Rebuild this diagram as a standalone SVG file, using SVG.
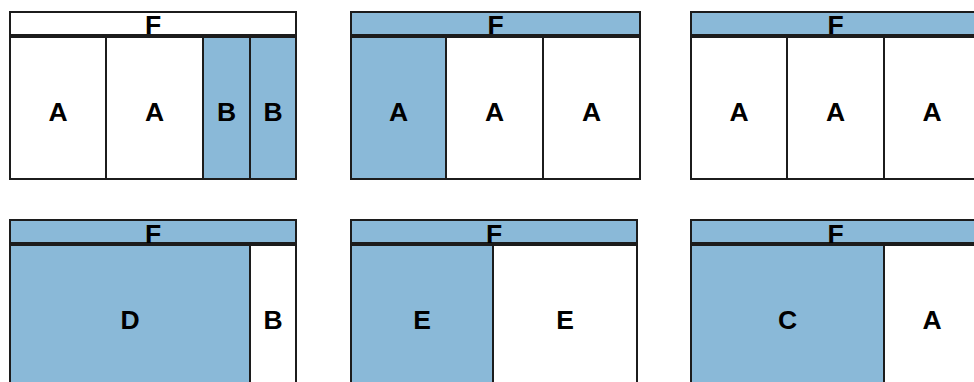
<svg xmlns="http://www.w3.org/2000/svg" width="974" height="382" viewBox="0 0 974 382">
<style>
.w,.b{stroke:#1c1c1c;stroke-width:2}
.w{fill:#ffffff}
.b{fill:#8ab9d8}
text{font-family:"Liberation Sans",Arial,sans-serif;font-weight:bold;font-size:26.5px;fill:#000;text-anchor:middle}
</style>
<g id="panel1">
<g id="p1-F"><rect class="w" x="10" y="12" width="286" height="23"/><text x="153" y="34">F</text></g>
<g id="p1-A1"><rect class="w" x="10" y="37" width="96" height="142"/><text x="58" y="120.5">A</text></g>
<g id="p1-A2"><rect class="w" x="106" y="37" width="97" height="142"/><text x="154.5" y="120.5">A</text></g>
<g id="p1-B1"><rect class="b" x="203" y="37" width="47" height="142"/><text x="226.5" y="120.5">B</text></g>
<g id="p1-B2"><rect class="b" x="250" y="37" width="46" height="142"/><text x="273" y="120.5">B</text></g>
</g>
<g id="panel2">
<g id="p2-F"><rect class="b" x="351" y="12" width="289" height="23"/><text x="495.5" y="34">F</text></g>
<g id="p2-A1"><rect class="b" x="351" y="37" width="95" height="142"/><text x="398.5" y="120.5">A</text></g>
<g id="p2-A2"><rect class="w" x="446" y="37" width="97" height="142"/><text x="494.5" y="120.5">A</text></g>
<g id="p2-A3"><rect class="w" x="543" y="37" width="97" height="142"/><text x="591.5" y="120.5">A</text></g>
</g>
<g id="panel3">
<g id="p3-F"><rect class="b" x="691" y="12" width="289" height="23"/><text x="835.5" y="34">F</text></g>
<g id="p3-A1"><rect class="w" x="691" y="37" width="96" height="142"/><text x="739" y="120.5">A</text></g>
<g id="p3-A2"><rect class="w" x="787" y="37" width="97" height="142"/><text x="835.5" y="120.5">A</text></g>
<g id="p3-A3"><rect class="w" x="884" y="37" width="96" height="142"/><text x="932" y="120.5">A</text></g>
</g>
<g id="panel4">
<g id="p4-F"><rect class="b" x="10" y="220" width="286" height="23"/><text x="153" y="242.5">F</text></g>
<g id="p4-D"><rect class="b" x="10" y="245" width="240" height="150"/><text x="130" y="328.5">D</text></g>
<g id="p4-B"><rect class="w" x="250" y="245" width="46" height="150"/><text x="273" y="328.5">B</text></g>
</g>
<g id="panel5">
<g id="p5-F"><rect class="b" x="351" y="220" width="286" height="23"/><text x="494" y="242.5">F</text></g>
<g id="p5-E1"><rect class="b" x="351" y="245" width="142" height="150"/><text x="422" y="328.5">E</text></g>
<g id="p5-E2"><rect class="w" x="493" y="245" width="144" height="150"/><text x="565" y="328.5">E</text></g>
</g>
<g id="panel6">
<g id="p6-F"><rect class="b" x="691" y="220" width="289" height="23"/><text x="835.5" y="242.5">F</text></g>
<g id="p6-C"><rect class="b" x="691" y="245" width="193" height="150"/><text x="787.5" y="328.5">C</text></g>
<g id="p6-A"><rect class="w" x="884" y="245" width="96" height="150"/><text x="932" y="328.5">A</text></g>
</g>
<g id="connectors"/>
</svg>
